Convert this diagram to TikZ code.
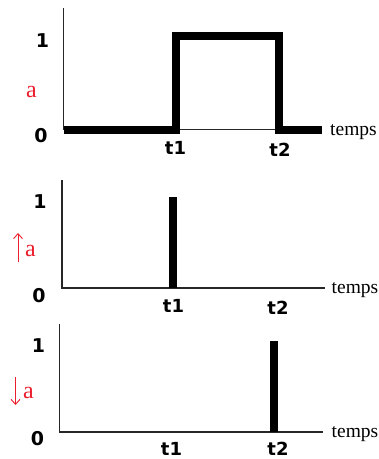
\documentclass[tikz,border=0pt]{standalone}
\usepackage{fontspec}
\setmainfont{Liberation Serif}
\newfontfamily\boldlab{DejaVu Sans}
\usetikzlibrary{arrows.meta}
\definecolor{sigred}{RGB}{235,30,45}
\begin{document}
\begin{tikzpicture}[x=1pt,y=-1pt,
  axis/.style={line width=1.3pt,draw=black!85},
  sig/.style={line width=8pt,line join=miter,line cap=butt},
  val/.style={font=\boldlab\bfseries\fontsize{19}{19}\selectfont,inner sep=0pt},
  tlab/.style={font=\boldlab\bfseries\fontsize{18}{18}\selectfont,inner sep=0pt},
  tmp/.style={font=\fontsize{19.5}{19.5}\selectfont,inner sep=0pt,anchor=base west},
  alab/.style={font=\fontsize{24}{24}\selectfont,text=sigred,inner sep=0pt,anchor=base},
  redarrow/.style={draw=sigred,line width=0.9pt,-{Straight Barb[length=5pt,width=9pt]}}]
\useasboundingbox (0,0) rectangle (379,459);
\fill[white] (0,0) rectangle (379,459);
% ---- panel 1
\coordinate (A1top) at (63.5,8);
\coordinate (A1o) at (63.5,129.5);
\coordinate (A1end) at (322,129.5);
\draw[axis] (A1top) -- (A1o) -- (A1end);
\coordinate (S0) at (63.5,130);
\coordinate (S1) at (175.5,130);
\coordinate (S2) at (175.5,36);
\coordinate (S3) at (279,36);
\coordinate (S4) at (279,130);
\coordinate (S5) at (322,130);
\draw[sig] (S0) -- (S1) -- (S2) -- (S3) -- (S4) -- (S5);
\node[val] (one1) at (42.5,41) {1};
\node[val] (zero1) at (41,135.5) {0};
\node[alab] (a1) at (31.5,97) {a};
\node[tmp] (temps1) at (330,135) {temps};
\node[tlab] (t1a) at (175.5,148) {t1};
\node[tlab] (t2a) at (280,150) {t2};
% ---- panel 2
\coordinate (A2top) at (62,180);
\coordinate (A2o) at (62,288);
\coordinate (A2end) at (325,288);
\draw[axis] (A2top) -- (A2o) -- (A2end);
\coordinate (P2b) at (173,288);
\coordinate (P2t) at (173,197);
\draw[sig] (P2b) -- (P2t);
\node[val] (one2) at (40,202) {1};
\node[val] (zero2) at (39,296) {0};
\coordinate (U0) at (18,262);
\coordinate (U1) at (18,233);
\draw[redarrow] (U0) -- (U1);
\node[alab] (a2) at (30.5,256) {a};
\node[tmp] (temps2) at (331.5,293) {temps};
\node[tlab] (t1b) at (173.5,306) {t1};
\node[tlab] (t2b) at (278,308) {t2};
% ---- panel 3
\coordinate (A3top) at (59.5,324);
\coordinate (A3o) at (59.5,432);
\coordinate (A3end) at (323,432);
\draw[axis] (A3top) -- (A3o) -- (A3end);
\coordinate (P3b) at (274,432);
\coordinate (P3t) at (274,341);
\draw[sig] (P3b) -- (P3t);
\node[val] (one3) at (38.5,345.5) {1};
\node[val] (zero3) at (37.5,439) {0};
\coordinate (D0) at (15.5,377);
\coordinate (D1) at (15.5,405);
\draw[redarrow] (D0) -- (D1);
\node[alab] (a3) at (28.5,398) {a};
\node[tmp] (temps3) at (331.5,437) {temps};
\node[tlab] (t1c) at (171.5,448.5) {t1};
\node[tlab] (t2c) at (278,449) {t2};
\end{tikzpicture}
\end{document}
